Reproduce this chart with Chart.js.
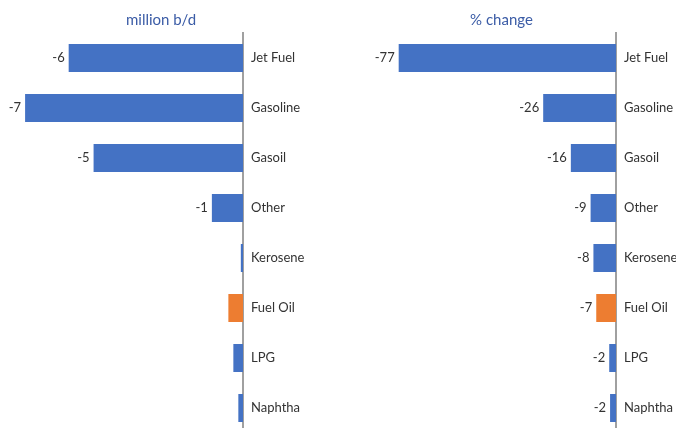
<!DOCTYPE html>
<html>
<head>
<meta charset="utf-8">
<script src="https://cdn.jsdelivr.net/npm/chart.js@4/dist/chart.umd.min.js"></script>
<style>
html,body{margin:0;padding:0;background:#fff;overflow:hidden;width:676px;height:428px;}
#wrap{position:relative;width:676px;height:440px;}
#c1{position:absolute;left:-16px;top:0;}
#c2{position:absolute;left:327px;top:0;}
</style>
</head>
<body>
<div id="wrap">
<canvas id="c1" width="354" height="440" style="width:354px;height:440px"></canvas>
<canvas id="c2" width="349" height="440" style="width:349px;height:440px"></canvas>
</div>
<script>
const categories = ['Jet Fuel','Gasoline','Gasoil','Other','Kerosene','Fuel Oil','LPG','Naphtha'];
const volumeChange = [-5.6,-7.0,-4.8,-1.0,-0.07,-0.47,-0.31,-0.15];
const pctChange = [-77,-25.8,-16,-9,-8,-7,-2.4,-2.1];
const highlightCategory = 'Fuel Oil';
const titles = ['million b/d','% change'];

const BLUE = '#4472C4', ORANGE = '#ED7D31';
const FONT = 'Lato, "Open Sans", sans-serif';

const valueLabels = {
  id: 'valueLabels',
  afterDatasetsDraw(chart) {
    const ctx = chart.ctx;
    const meta = chart.getDatasetMeta(0);
    const data = chart.data.datasets[0].data;
    ctx.save();
    ctx.font = '13px ' + FONT;
    ctx.fillStyle = '#333333';
    ctx.textAlign = 'right';
    ctx.textBaseline = 'middle';
    meta.data.forEach((bar, i) => {
      const v = Math.round(data[i]);
      if (v === 0) return;
      ctx.fillText(String(v), bar.x - 4, bar.y);
    });
    ctx.restore();
  }
};

function makeChart(id, values, title, xmin, axisWidth) {
  return new Chart(document.getElementById(id), {
    type: 'bar',
    data: {
      labels: categories,
      datasets: [{
        data: values,
        backgroundColor: categories.map(c => c === highlightCategory ? ORANGE : BLUE),
        barPercentage: 0.56,
        categoryPercentage: 1.0,
        borderWidth: 0
      }]
    },
    options: {
      indexAxis: 'y',
      responsive: false,
      animation: false,
      layout: { padding: { top: 0, bottom: 7, left: 0, right: 0 } },
      plugins: {
        legend: { display: false },
        tooltip: { enabled: false },
        title: {
          display: true,
          text: title,
          color: '#3B5CA6',
          font: { family: FONT, size: 15, weight: 'normal' },
          padding: { top: 11, bottom: 4 }
        }
      },
      scales: {
        x: { display: false, min: xmin, max: 0 },
        y: {
          position: 'right',
          grid: { display: false, drawTicks: false },
          border: { display: true, color: '#A0A0A0', width: 2 },
          ticks: {
            color: '#333333',
            font: { family: FONT, size: 13 },
            padding: 8,
            crossAlign: 'near'
          },
          afterFit(scale) {
            scale.width = axisWidth;
            scale.paddingTop = 0;
            scale.paddingBottom = 0;
          }
        }
      }
    },
    plugins: [valueLabels]
  });
}

makeChart('c1', volumeChange, titles[0], -8.32, 354 - 259);
makeChart('c2', pctChange, titles[1], -102.4, 349 - 289);
</script>
</body>
</html>
